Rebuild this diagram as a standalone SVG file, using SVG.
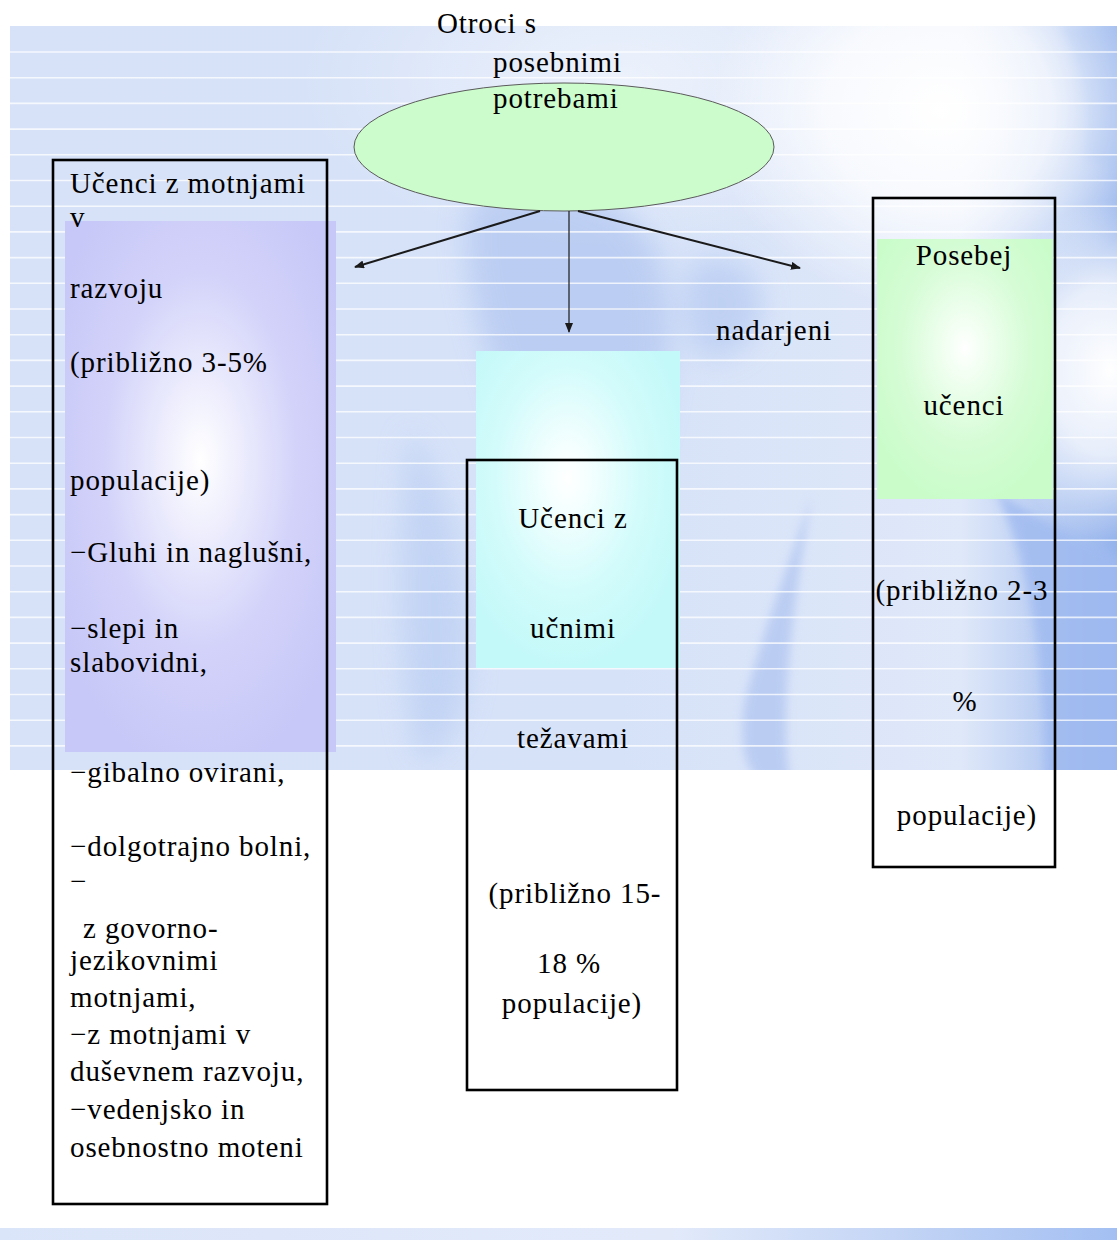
<svg xmlns="http://www.w3.org/2000/svg" width="1117" height="1240" viewBox="0 0 1117 1240">
  <style>
    .t { font-family: "Liberation Serif", "Times New Roman", serif; font-size: 29px; letter-spacing: 0.9px; fill: #000; }
    .m { text-anchor: middle; }
    .box { fill: none; stroke: #000; stroke-width: 2.6; }
    .conn { stroke: #1a1a1a; fill: none; }
    .bgline { stroke: #ffffff; stroke-opacity: 0.75; stroke-width: 1.6; }
  </style>
  <defs>
    <linearGradient id="bgH" x1="0" y1="0" x2="1" y2="0">
      <stop offset="0" stop-color="#d7e2f8"/>
      <stop offset="0.55" stop-color="#d6e2f8"/>
      <stop offset="0.86" stop-color="#dfe8f9"/>
      <stop offset="0.94" stop-color="#b6cbf2"/>
      <stop offset="1" stop-color="#95b3ec"/>
    </linearGradient>
    <radialGradient id="glowW" cx="0.5" cy="0.5" r="0.5">
      <stop offset="0" stop-color="#ffffff" stop-opacity="1"/>
      <stop offset="0.5" stop-color="#ffffff" stop-opacity="0.75"/>
      <stop offset="1" stop-color="#ffffff" stop-opacity="0"/>
    </radialGradient>
    <radialGradient id="glowSoft" cx="0.5" cy="0.5" r="0.5">
      <stop offset="0" stop-color="#ffffff" stop-opacity="0.55"/>
      <stop offset="1" stop-color="#ffffff" stop-opacity="0"/>
    </radialGradient>
    <linearGradient id="bottomBand" x1="0" y1="0" x2="1" y2="0">
      <stop offset="0" stop-color="#dbe5f9"/>
      <stop offset="0.6" stop-color="#e2eafa"/>
      <stop offset="0.8" stop-color="#c4d5f5"/>
      <stop offset="1" stop-color="#a3bff2"/>
    </linearGradient>
    <radialGradient id="purple" cx="0.5" cy="0.45" r="0.6">
      <stop offset="0" stop-color="#ffffff"/>
      <stop offset="0.15" stop-color="#f4f4fe"/>
      <stop offset="0.6" stop-color="#d2d2fa"/>
      <stop offset="1" stop-color="#c8c8f8"/>
    </radialGradient>
    <radialGradient id="cyan" cx="0.45" cy="0.4" r="0.6">
      <stop offset="0" stop-color="#ffffff"/>
      <stop offset="0.15" stop-color="#f6ffff"/>
      <stop offset="0.6" stop-color="#d3fbfb"/>
      <stop offset="1" stop-color="#c4f9f9"/>
    </radialGradient>
    <radialGradient id="green" cx="0.5" cy="0.42" r="0.6">
      <stop offset="0" stop-color="#ffffff"/>
      <stop offset="0.15" stop-color="#f4fff4"/>
      <stop offset="0.6" stop-color="#d6fcd6"/>
      <stop offset="1" stop-color="#cafcca"/>
    </radialGradient>
    <filter id="blur" x="-50%" y="-50%" width="200%" height="200%">
      <feGaussianBlur stdDeviation="14"/>
    </filter>
    <filter id="blurS" x="-50%" y="-50%" width="200%" height="200%">
      <feGaussianBlur stdDeviation="5"/>
    </filter>
    <clipPath id="panelClip">
      <rect x="10" y="26" width="1107" height="744"/>
    </clipPath>
    <marker id="arr" viewBox="0 0 10 8" refX="9" refY="4" markerWidth="10" markerHeight="8" markerUnits="userSpaceOnUse" orient="auto">
      <path d="M0,0 L10,4 L0,8 Z" fill="#1a1a1a"/>
    </marker>
  </defs>

  <!-- background -->
  <g id="background">
    <rect x="0" y="0" width="1117" height="1240" fill="#ffffff"/>
    <g clip-path="url(#panelClip)">
      <rect x="10" y="26" width="1107" height="744" fill="url(#bgH)"/>
      <ellipse cx="620" cy="80" rx="320" ry="170" fill="url(#glowSoft)"/>
      <g filter="url(#blur)" opacity="0.75">
        <path d="M470,200 C520,170 630,180 660,260 C690,340 650,480 600,560 C560,610 520,560 520,480 C515,400 450,300 470,200 Z" fill="#b3c7f1"/>
        <path d="M410,430 C440,470 470,560 470,650 C470,720 440,760 420,760 C400,700 395,560 410,430 Z" fill="#bccff3"/>
        <path d="M700,260 C740,250 770,280 760,320 C745,360 700,370 690,340 C680,310 680,270 700,260 Z" fill="#b7cbf2"/>
      </g>
      <g filter="url(#blurS)" opacity="0.8">
        <path d="M812,495 C790,560 760,640 745,700 C738,740 745,770 760,780 L790,780 C780,720 790,620 812,495 Z" fill="#b3c7f1"/>
        <path d="M995,490 C1030,560 1045,660 1045,780 L1125,780 L1125,560 C1080,540 1040,520 995,490 Z" fill="#9fbaf0"/>
        <path d="M1060,26 C1080,60 1090,110 1085,160 L1125,170 L1125,26 Z" fill="#93b2ec"/>
      </g>
      <ellipse cx="940" cy="110" rx="230" ry="200" fill="url(#glowW)"/>
      <ellipse cx="1110" cy="370" rx="120" ry="170" fill="url(#glowW)"/>
      <g id="bg-lines">
        <line class="bgline" x1="10" x2="1117" y1="52" y2="52"/>
        <line class="bgline" x1="10" x2="1117" y1="77.7" y2="77.7"/>
        <line class="bgline" x1="10" x2="1117" y1="103.4" y2="103.4"/>
        <line class="bgline" x1="10" x2="1117" y1="129.1" y2="129.1"/>
        <line class="bgline" x1="10" x2="1117" y1="154.8" y2="154.8"/>
        <line class="bgline" x1="10" x2="1117" y1="180.5" y2="180.5"/>
        <line class="bgline" x1="10" x2="1117" y1="206.2" y2="206.2"/>
        <line class="bgline" x1="10" x2="1117" y1="231.9" y2="231.9"/>
        <line class="bgline" x1="10" x2="1117" y1="257.6" y2="257.6"/>
        <line class="bgline" x1="10" x2="1117" y1="283.3" y2="283.3"/>
        <line class="bgline" x1="10" x2="1117" y1="309" y2="309"/>
        <line class="bgline" x1="10" x2="1117" y1="334.7" y2="334.7"/>
        <line class="bgline" x1="10" x2="1117" y1="360.4" y2="360.4"/>
        <line class="bgline" x1="10" x2="1117" y1="386.1" y2="386.1"/>
        <line class="bgline" x1="10" x2="1117" y1="411.8" y2="411.8"/>
        <line class="bgline" x1="10" x2="1117" y1="437.5" y2="437.5"/>
        <line class="bgline" x1="10" x2="1117" y1="463.2" y2="463.2"/>
        <line class="bgline" x1="10" x2="1117" y1="488.9" y2="488.9"/>
        <line class="bgline" x1="10" x2="1117" y1="514.6" y2="514.6"/>
        <line class="bgline" x1="10" x2="1117" y1="540.3" y2="540.3"/>
        <line class="bgline" x1="10" x2="1117" y1="566" y2="566"/>
        <line class="bgline" x1="10" x2="1117" y1="591.7" y2="591.7"/>
        <line class="bgline" x1="10" x2="1117" y1="617.4" y2="617.4"/>
        <line class="bgline" x1="10" x2="1117" y1="643.1" y2="643.1"/>
        <line class="bgline" x1="10" x2="1117" y1="668.8" y2="668.8"/>
        <line class="bgline" x1="10" x2="1117" y1="694.5" y2="694.5"/>
        <line class="bgline" x1="10" x2="1117" y1="720.2" y2="720.2"/>
        <line class="bgline" x1="10" x2="1117" y1="745.9" y2="745.9"/>
      </g>
    </g>
    <rect x="0" y="1228" width="1117" height="12" fill="url(#bottomBand)"/>
  </g>

  <!-- root node -->
  <g id="node-root">
    <ellipse cx="564" cy="147" rx="210" ry="64" fill="#ccfccc" stroke="#5a5a5a" stroke-width="1"/>
    <text class="t" x="437" y="33">Otroci s</text>
    <text class="t" x="493" y="72">posebnimi</text>
    <text class="t" x="493" y="108">potrebami</text>
  </g>

  <!-- left node -->
  <g id="node-motnje">
    <rect x="65" y="221" width="271" height="531" fill="url(#purple)"/>
    <rect class="box" x="53" y="160" width="274" height="1044"/>
    <text class="t" x="70" y="193">Učenci z motnjami</text>
    <text class="t" x="70" y="227">v</text>
    <text class="t" x="70" y="298">razvoju</text>
    <text class="t" x="70" y="372">(približno 3-5%</text>
    <text class="t" x="70" y="490">populacije)</text>
    <text class="t" x="70" y="562">−Gluhi in naglušni,</text>
    <text class="t" x="70" y="638">−slepi in</text>
    <text class="t" x="70" y="672">slabovidni,</text>
    <text class="t" x="70" y="782">−gibalno ovirani,</text>
    <text class="t" x="70" y="856">−dolgotrajno bolni,</text>
    <text class="t" x="70" y="891">−</text>
    <text class="t" x="83" y="938">z govorno-</text>
    <text class="t" x="70" y="970">jezikovnimi</text>
    <text class="t" x="70" y="1007">motnjami,</text>
    <text class="t" x="70" y="1044">−z motnjami v</text>
    <text class="t" x="70" y="1081">duševnem razvoju,</text>
    <text class="t" x="70" y="1119">−vedenjsko in</text>
    <text class="t" x="70" y="1157">osebnostno moteni</text>
  </g>

  <!-- middle node -->
  <g id="node-ucne">
    <rect x="476" y="351" width="204" height="317" fill="url(#cyan)"/>
    <rect class="box" x="467" y="460" width="210" height="630"/>
    <text class="t m" x="573" y="528">Učenci z</text>
    <text class="t m" x="573" y="638">učnimi</text>
    <text class="t m" x="573" y="748">težavami</text>
    <text class="t m" x="575" y="903">(približno 15-</text>
    <text class="t m" x="569" y="973">18 %</text>
    <text class="t m" x="572" y="1013">populacije)</text>
  </g>

  <!-- nadarjeni label -->
  <g id="node-nadarjeni">
    <text class="t" x="716" y="340">nadarjeni</text>
  </g>

  <!-- right node -->
  <g id="node-posebej">
    <rect x="877" y="239" width="176" height="260" fill="url(#green)"/>
    <rect class="box" x="873" y="198" width="182" height="669"/>
    <text class="t m" x="964" y="265">Posebej</text>
    <text class="t m" x="964" y="415">učenci</text>
    <text class="t m" x="962" y="600">(približno 2-3</text>
    <text class="t m" x="965" y="711">%</text>
    <text class="t m" x="967" y="825">populacije)</text>
  </g>

  <!-- connectors -->
  <g id="connectors">
    <line class="conn" x1="540" y1="211" x2="355" y2="267" stroke-width="2" marker-end="url(#arr)"/>
    <line class="conn" x1="569" y1="211" x2="569" y2="332" stroke-width="1.2" stroke="#444" marker-end="url(#arr)"/>
    <line class="conn" x1="578" y1="211" x2="800" y2="268" stroke-width="2" marker-end="url(#arr)"/>
  </g>
</svg>
